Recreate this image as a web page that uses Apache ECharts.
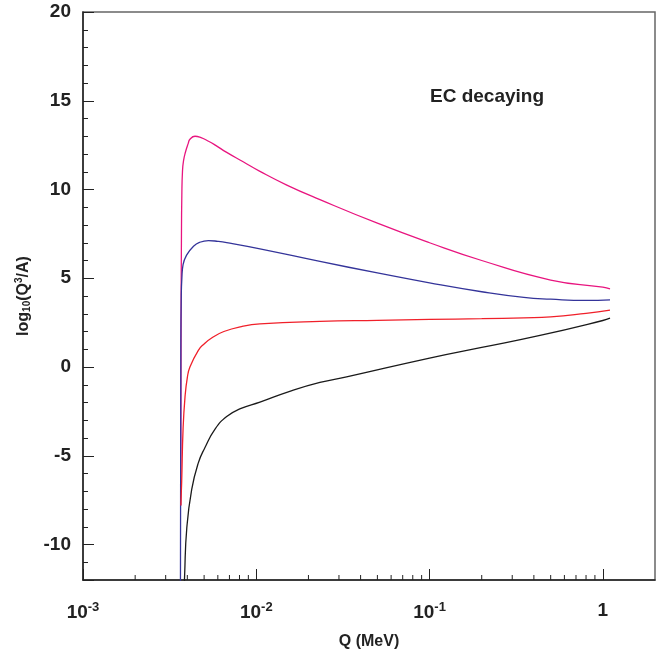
<!DOCTYPE html>
<html lang="en">
<head>
    <meta charset="utf-8"/>
    <title>EC decaying</title>
    <style>
        html, body { margin: 0; padding: 0; background: #fff; }
        #chart { width: 671px; height: 655px; }
    </style>
</head>
<body>
<div id="chart"></div>
<script src="https://cdn.jsdelivr.net/npm/echarts@6/dist/echarts.min.js"></script>
<script>
    // Q (MeV) / log10(Q^3/A), one pair of arrays per curve
    var qPink = [0.003664, 0.00368, 0.0037, 0.00372, 0.00375, 0.0038, 0.0039, 0.00405, 0.00414, 0.00443, 0.0048, 0.0053, 0.0058, 0.00675, 0.0084, 0.0105, 0.015, 0.0233, 0.05, 0.1, 0.2, 0.5, 1.0, 1.1];
    var vPink = [-7.8, 2.0, 7.5, 9.8, 11.0, 11.6, 12.1, 12.6, 12.83, 13.0, 12.92, 12.72, 12.5, 12.09, 11.56, 11.02, 10.25, 9.43, 8.1, 7.0, 6.0, 4.9, 4.5, 4.4];

    var qBlue = [0.00365, 0.00367, 0.00369, 0.00372, 0.00378, 0.00397, 0.00433, 0.0047, 0.0053, 0.006, 0.00675, 0.0105, 0.0233, 0.05, 0.1, 0.2, 0.35, 0.5, 0.8, 1.1];
    var vBlue = [-13, 1.0, 4.0, 5.0, 5.77, 6.32, 6.79, 7.02, 7.12, 7.08, 7.01, 6.66, 5.95, 5.3, 4.74, 4.24, 3.92, 3.82, 3.75, 3.78];

    var qRed = [0.00367, 0.00371, 0.00378, 0.00388, 0.0040, 0.00414, 0.00463, 0.005, 0.0055, 0.0065, 0.0084, 0.0105, 0.0233, 0.05, 0.1, 0.2, 0.35, 0.5, 0.8, 1.1];
    var vRed = [-7.8, -6.5, -3.5, -1.67, -0.6, 0, 0.94, 1.3, 1.62, 2.0, 2.3, 2.43, 2.57, 2.63, 2.68, 2.72, 2.77, 2.82, 3.02, 3.2];

    var qBlack = [0.00383, 0.00386, 0.00397, 0.00424, 0.00463, 0.00505, 0.00578, 0.00675, 0.0081, 0.0105, 0.0156, 0.0233, 0.0332, 0.1, 0.2, 0.434, 1.0, 1.1];
    var vBlack = [-13, -11.7, -9.1, -6.9, -5.4, -4.55, -3.5, -2.79, -2.35, -1.98, -1.37, -0.87, -0.56, 0.5, 1.1, 1.78, 2.62, 2.75];

    // log axis minor ticks 2..9 x 10^k
    var minorX = [];
    [0.001, 0.01, 0.1].forEach(function (d) {
        for (var k = 2; k <= 9; k++) minorX.push(+(k * d).toPrecision(3));
    });

    var Y_MIN = -12, Y_MAX = 20;
    var FONT = '"Liberation Sans", Arial, sans-serif';

    function pairs(q, v) {
        return q.map(function (x, i) { return [x, v[i]]; });
    }

    function curve(name, q, v, color) {
        return {
            name: name,
            type: 'line',
            data: pairs(q, v),
            showSymbol: false,
            smooth: 0.5,
            lineStyle: { color: color, width: 1.3 },
            silent: true
        };
    }

    var chart = echarts.init(document.getElementById('chart'));
    var option = {
        animation: false,
        backgroundColor: '#fff',
        grid: {
            left: 83, right: 16, top: 12, bottom: 69,
            show: true, borderColor: '#666', borderWidth: 1.5
        },
        xAxis: {
            type: 'log',
            logBase: 10,
            min: 0.001,
            max: 2,
            name: 'Q (MeV)',
            nameLocation: 'middle',
            nameGap: 54,
            nameTextStyle: { fontFamily: FONT, fontWeight: 'bold', fontSize: 16, color: '#222' },
            axisLine: { show: true, onZero: false, lineStyle: { color: '#222', width: 1.5 } },
            axisTick: { show: true, inside: true, length: 11, lineStyle: { color: '#222', width: 1 } },
            splitLine: { show: false },
            axisLabel: {
                margin: 21,
                showMaxLabel: false,
                fontFamily: FONT, fontWeight: 'bold', fontSize: 19, color: '#222',
                formatter: function (val) {
                    var e = Math.round(Math.log10(val));
                    if (Math.abs(Math.log10(val) - e) > 1e-6) return '';
                    if (e === 0) return '1';
                    return '10{sup|' + e + '}';
                },
                rich: {
                    sup: { fontFamily: FONT, fontWeight: 'bold', fontSize: 13, color: '#222', verticalAlign: 'top', padding: [0, 0, 10, 0] }
                }
            }
        },
        yAxis: [
            {
                // minor ticks every unit
                type: 'value',
                min: Y_MIN,
                max: Y_MAX,
                interval: 1,
                position: 'left',
                axisLine: { show: true, onZero: false, lineStyle: { color: '#222', width: 1.5 } },
                axisTick: { show: true, inside: true, length: 5, lineStyle: { color: '#222', width: 1 } },
                axisLabel: { show: false },
                splitLine: { show: false }
            },
            {
                // major ticks + labels
                type: 'value',
                min: Y_MIN,
                max: Y_MAX,
                splitNumber: 5,
                position: 'left',
                name: '{b|log}{sub|10}{b|(Q}{sup|3}{b|/A)}',
                nameLocation: 'middle',
                nameGap: 41,
                nameRotate: 90,
                nameTextStyle: {
                    rich: {
                        b: { fontFamily: FONT, fontWeight: 'bold', fontSize: 16, color: '#222' },
                        sub: { fontFamily: FONT, fontWeight: 'bold', fontSize: 10, color: '#222', verticalAlign: 'bottom', padding: [6, 0, 0, 0] },
                        sup: { fontFamily: FONT, fontWeight: 'bold', fontSize: 10, color: '#222', verticalAlign: 'top', padding: [0, 0, 8, 0] }
                    }
                },
                axisLine: { show: false },
                axisTick: { show: true, inside: true, length: 11, lineStyle: { color: '#222', width: 1 } },
                splitLine: { show: false },
                axisLabel: {
                    margin: 12,
                    fontFamily: FONT, fontWeight: 'bold', fontSize: 19, color: '#222',
                    formatter: function (val) {
                        return (Math.round(val) % 5 === 0) ? String(Math.round(val)) : '';
                    }
                }
            }
        ],
        graphic: [{
            type: 'text',
            left: 430,
            top: 87,
            style: { text: 'EC decaying', fontFamily: FONT, fontWeight: 'bold', fontSize: 19, fill: '#222' }
        }],
        series: [
            curve('pink', qPink, vPink, '#e8157f'),
            curve('blue', qBlue, vBlue, '#34349a'),
            curve('red', qRed, vRed, '#f0202a'),
            curve('black', qBlack, vBlack, '#1a1a1a'),
            {
                type: 'custom',
                silent: true,
                clip: false,
                data: minorX.map(function (v) { return [v, Y_MIN]; }),
                renderItem: function (params, api) {
                    var p = api.coord([api.value(0), api.value(1)]);
                    return {
                        type: 'line',
                        shape: { x1: p[0], y1: p[1], x2: p[0], y2: p[1] - 5 },
                        style: { stroke: '#222', lineWidth: 1 }
                    };
                }
            }
        ]
    };
    chart.setOption(option);
</script>
</body>
</html>
